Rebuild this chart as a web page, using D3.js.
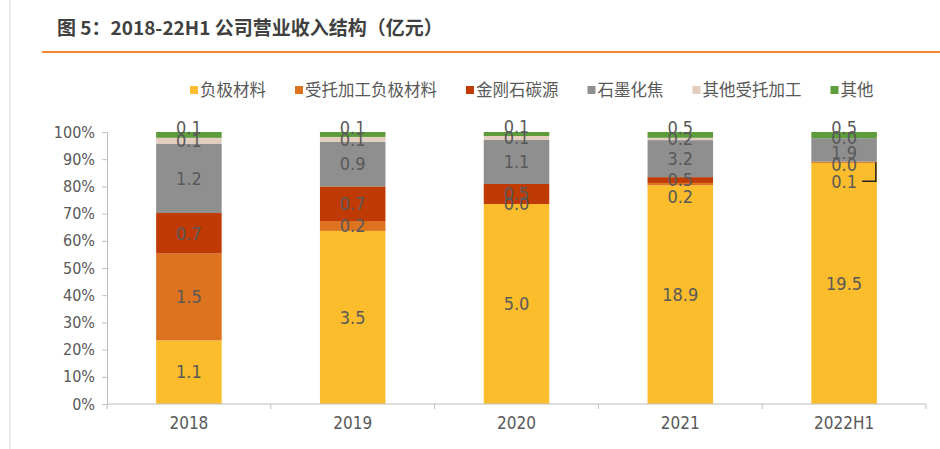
<!DOCTYPE html>
<html>
<head>
<meta charset="utf-8">
<script src="https://cdn.jsdelivr.net/npm/d3@7"></script>
<style>
  body { margin: 0; background: #fff; }
  svg { display: block; }
</style>
</head>
<body>
<div id="chart"></div>
<script>
// revenue structure, 亿元
const categories = ['2018', '2019', '2020', '2021', '2022H1'];
const seriesNames = ['负极材料', '受托加工负极材料', '金刚石碳源', '石墨化焦', '其他受托加工', '其他'];
const anode      = [1.1, 3.5, 5.0, 18.9, 19.5];
const anodeToll  = [1.5, 0.2, 0.0, 0.2, 0.1];
const diamond    = [0.7, 0.7, 0.5, 0.5, 0.0];
const coke       = [1.2, 0.9, 1.1, 3.2, 1.9];
const otherToll  = [0.1, 0.1, 0.1, 0.2, 0.0];
const other      = [0.1, 0.1, 0.1, 0.5, 0.5];
const yTicks = [0, 0.1, 0.2, 0.3, 0.4, 0.5, 0.6, 0.7, 0.8, 0.9, 1.0];

const colors = ['#FBBD2C', '#DD721F', '#BF3A05', '#8F8F8F', '#E3CDBF', '#5D9C3B'];
const seriesValues = [anode, anodeToll, diamond, coke, otherToll, other];

const W = 940, H = 449;
const numFont = '"Liberation Sans Narrow", "DejaVu Sans Condensed", "Noto Sans CJK SC", sans-serif';
const cjkFont = '"Noto Sans CJK SC", sans-serif';

const svg = d3.select('#chart').append('svg')
    .attr('width', W)
    .attr('height', H);

// left border + title
svg.append('line')
    .attr('x1', 10).attr('x2', 10).attr('y1', 0).attr('y2', H)
    .attr('stroke', '#d9d9d9').attr('stroke-width', 1);

svg.append('text')
    .attr('x', 57).attr('y', 35)
    .attr('font-family', cjkFont)
    .attr('font-size', 19)
    .attr('font-weight', 'bold')
    .attr('fill', '#404040')
    .text('图 5：2018-22H1 公司营业收入结构（亿元）');

svg.append('line')
    .attr('x1', 42).attr('x2', W).attr('y1', 52).attr('y2', 52)
    .attr('stroke', '#F3862C').attr('stroke-width', 2);

// build rows for stacking
const rows = categories.map((c, i) => {
    const r = { cat: c };
    seriesNames.forEach((s, j) => { r[s] = seriesValues[j][i]; });
    return r;
});

const stacked = d3.stack()
    .keys(seriesNames)
    .offset(d3.stackOffsetExpand)(rows);

const plot = { left: 107, right: 926, top: 132, bottom: 404 };

const x = d3.scaleBand()
    .domain(categories)
    .range([plot.left, plot.right])
    .paddingInner(0.6)
    .paddingOuter(0.3);

const y = d3.scaleLinear()
    .domain([0, 1])
    .range([plot.bottom, plot.top]);

// bars
const layers = svg.selectAll('.layer')
    .data(stacked)
    .enter()
    .append('g')
    .attr('class', 'layer')
    .attr('fill', (d, i) => colors[i]);

layers.selectAll('rect')
    .data(d => d)
    .enter()
    .append('rect')
    .attr('x', d => x(d.data.cat))
    .attr('width', x.bandwidth())
    .attr('y', d => y(d[1]))
    .attr('height', d => y(d[0]) - y(d[1]));

// y axis
const yAxis = svg.append('g')
    .attr('transform', `translate(${plot.left},0)`)
    .call(d3.axisLeft(y).tickValues(yTicks).tickFormat(d3.format('.0%')).tickSize(5).tickPadding(7));

yAxis.select('.domain').attr('stroke', '#bfbfbf');
yAxis.selectAll('.tick line').attr('stroke', '#bfbfbf');
yAxis.selectAll('text')
    .attr('font-family', numFont)
    .attr('font-size', 16)
    .attr('fill', '#595959');

// x axis with ticks at category boundaries
const step = x.step();
svg.append('line')
    .attr('x1', plot.left).attr('x2', plot.right)
    .attr('y1', plot.bottom).attr('y2', plot.bottom)
    .attr('stroke', '#bfbfbf');

svg.selectAll('.xtick')
    .data(d3.range(categories.length + 1))
    .enter()
    .append('line')
    .attr('class', 'xtick')
    .attr('x1', i => plot.left + i * step)
    .attr('x2', i => plot.left + i * step)
    .attr('y1', plot.bottom)
    .attr('y2', plot.bottom + 5)
    .attr('stroke', '#bfbfbf');

svg.selectAll('.xlabel')
    .data(categories)
    .enter()
    .append('text')
    .attr('class', 'xlabel')
    .attr('x', d => x(d) + x.bandwidth() / 2)
    .attr('y', plot.bottom + 25)
    .attr('text-anchor', 'middle')
    .attr('font-family', numFont)
    .attr('font-size', 17)
    .attr('fill', '#595959')
    .text(d => d);

// data labels (a few were nudged in the original)
const nudge = {
    '其他': -7,
    '2021|受托加工负极材料': 13,
    '2022H1|受托加工负极材料': 19,
    '2022H1|石墨化焦': 3,
    '2022H1|金刚石碳源': 3
};

stacked.forEach(layer => {
    layer.forEach(d => {
        const cat = d.data.cat;
        const cx = x(cat) + x.bandwidth() / 2;
        let cy = (y(d[0]) + y(d[1])) / 2;
        cy += (nudge[layer.key] || 0) + (nudge[cat + '|' + layer.key] || 0);
        svg.append('text')
            .attr('x', cx)
            .attr('y', cy)
            .attr('dy', '0.35em')
            .attr('text-anchor', 'middle')
            .attr('font-family', numFont)
            .attr('font-size', 18)
            .attr('fill', '#595959')
            .text(d.data[layer.key].toFixed(1));

        // leader line for the moved 2022H1 label
        if (cat === '2022H1' && layer.key === '受托加工负极材料') {
            const right = x(cat) + x.bandwidth() - 1;
            svg.append('path')
                .attr('d', `M${cx + 18},${cy} H${right} V${(y(d[0]) + y(d[1])) / 2}`)
                .attr('fill', 'none')
                .attr('stroke', '#222')
                .attr('stroke-width', 1.5);
        }
    });
});

// legend
const legend = svg.append('g').attr('transform', 'translate(0,90)');
let lx = 190;
seriesNames.forEach((s, i) => {
    legend.append('rect')
        .attr('x', lx).attr('y', -4)
        .attr('width', 8).attr('height', 8)
        .attr('fill', colors[i]);
    const t = legend.append('text')
        .attr('x', lx + 10)
        .attr('y', 0)
        .attr('dy', '0.35em')
        .attr('font-family', cjkFont)
        .attr('font-size', 16.5)
        .attr('fill', '#595959')
        .text(s);
    lx += 10 + t.node().getComputedTextLength() + 29;
});
</script>
</body>
</html>
